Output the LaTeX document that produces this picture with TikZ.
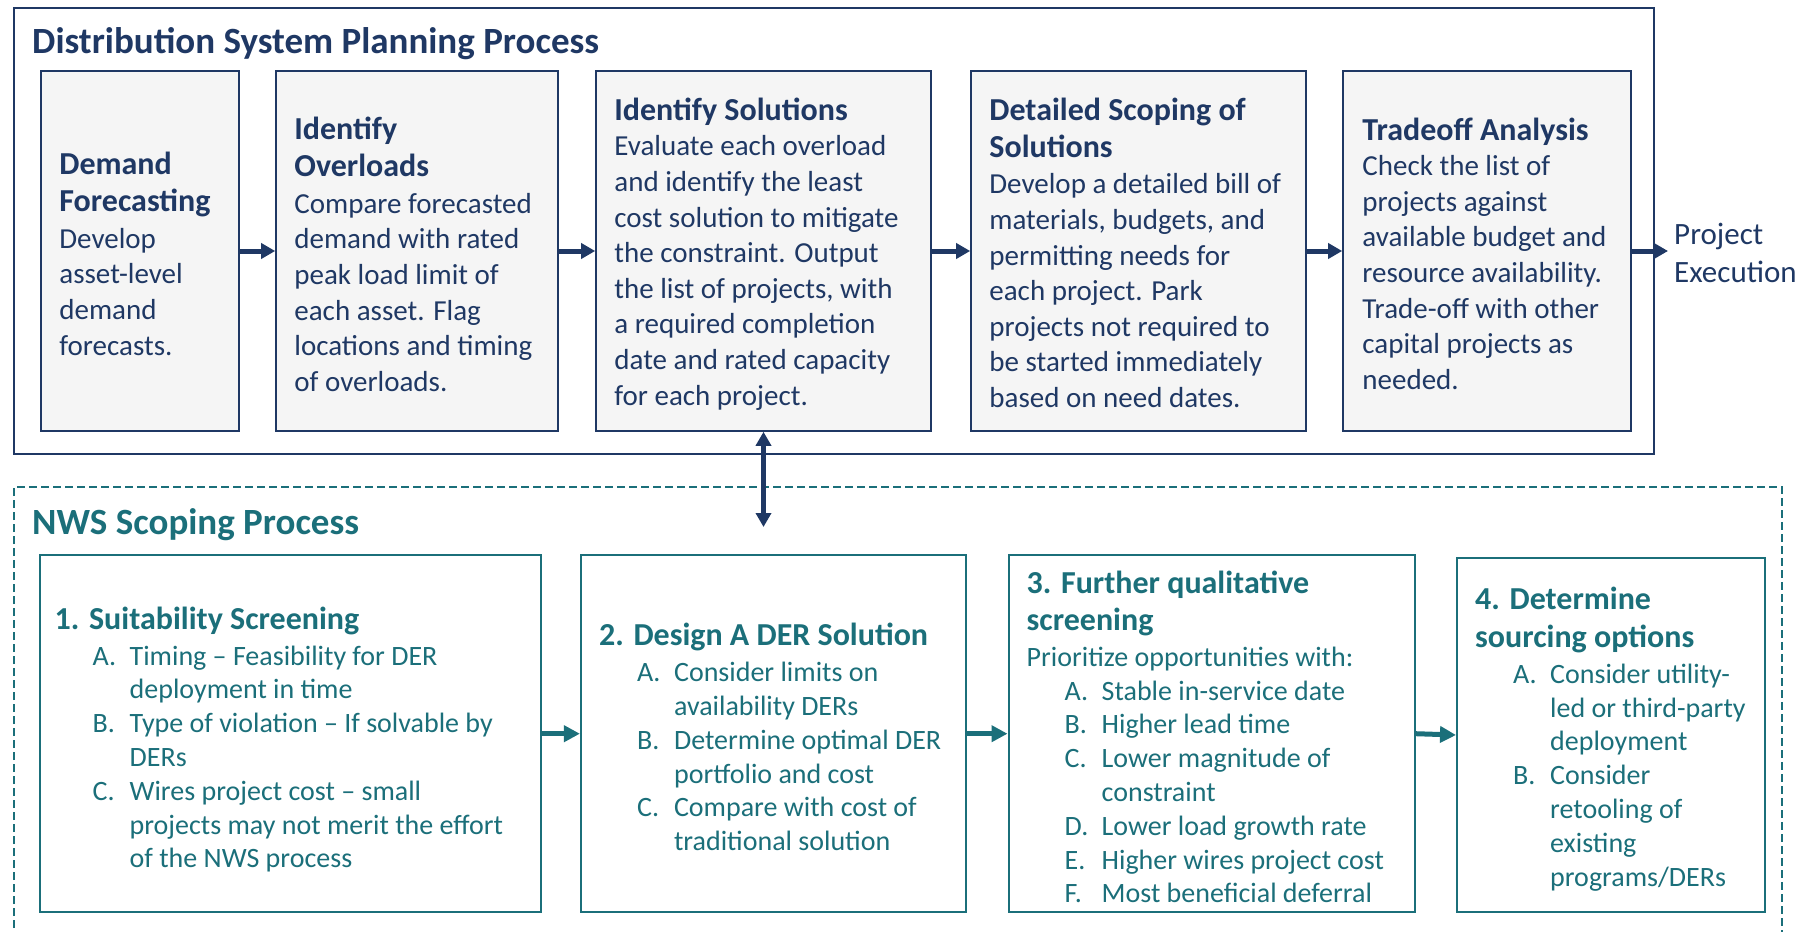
\documentclass[tikz,border=0pt]{standalone}
\usepackage{fontspec}
\setmainfont{Carlito}
\usetikzlibrary{arrows.meta}

\definecolor{dspnavy}{HTML}{1F3864}
\definecolor{nwsteal}{HTML}{1B6F7A}
\definecolor{panelgray}{HTML}{F5F5F5}

% headings inside the boxes
\newcommand{\tophead}[1]{{\fontsize{32}{37}\selectfont\bfseries #1}}
\newcommand{\nwshead}[1]{{\fontsize{32}{37}\selectfont\bfseries #1}}
% lettered list lines with a hanging indent
\newcommand{\lstitem}[2]{\hspace*{38pt}\makebox[37pt][l]{#1}#2}
\newcommand{\lstcont}[1]{\hspace*{75pt}#1}

\tikzset{
  dspframe/.style={draw=dspnavy, line width=1.6pt},
  nwsframe/.style={draw=nwsteal, line width=1.6pt, dash pattern=on 8pt off 4pt},
  dspbox/.style={draw=dspnavy, line width=1.6pt, fill=panelgray, inner sep=0pt, minimum height=360pt},
  nwsbox/.style={draw=nwsteal, line width=2pt, fill=white, inner sep=0pt},
  dsptext/.style={anchor=west, inner sep=0pt, align=left, text=dspnavy, font=\fontsize{29}{35.6}\selectfont},
  nwstext/.style={anchor=west, inner sep=0pt, align=left, text=nwsteal, font=\fontsize{28}{33.8}\selectfont},
  headline/.style={anchor=west, inner sep=0pt, font=\fontsize{37}{44}\selectfont\bfseries},
  dspflow/.style={draw=dspnavy, line width=5pt, -{Triangle[length=14pt,width=15pt]}},
  nwsflow/.style={draw=nwsteal, line width=5pt, -{Triangle[length=16pt,width=16pt]}},
  twoway/.style={draw=dspnavy, line width=5pt, {Triangle[length=14pt,width=15pt]}-{Triangle[length=14pt,width=15pt]}},
}

\begin{document}
\begin{tikzpicture}[x=1pt,y=-1pt]
\useasboundingbox (0,0) rectangle (1803,931);

% frames of the two processes
\draw[dspframe] (14,8) rectangle (1654,454);
\draw[nwsframe] (14,940) -- (14,487) -- (1782,487) -- (1782,940);

\node[headline, text=dspnavy] (dsptitle) at (32,43.5) {Distribution System Planning Process};
\node[headline, text=nwsteal] (nwstitle) at (32,524.5) {NWS Scoping Process};

% planning steps
\node[dspbox, minimum width=198pt] (f1) at (140,251) {};
\node[dspbox, minimum width=282pt] (f2) at (417,251) {};
\node[dspbox, minimum width=335pt] (f3) at (763.5,251) {};
\node[dspbox, minimum width=335pt] (f4) at (1138.5,251) {};
\node[dspbox, minimum width=288pt] (f5) at (1487,251) {};

\node[dsptext] (t1) at ([xshift=19pt,yshift=-2.5pt]f1.west) {\tophead{Demand}\\[1.5pt]
  \tophead{Forecasting}\\[1.5pt]
  Develop\\
  asset-level\\
  demand\\
  forecasts.};
\node[dsptext] (t2) at ([xshift=19pt,yshift=-3pt]f2.west) {\tophead{Identify}\\[1.5pt]
  \tophead{Overloads}\\[1.5pt]
  Compare forecasted\\
  demand with rated\\
  peak load limit of\\
  each asset. Flag\\
  locations and timing\\
  of overloads.};
\node[dsptext] (t3) at ([xshift=19pt,yshift=-3pt]f3.west) {\tophead{Identify Solutions}\\
  Evaluate each overload\\
  and identify the least\\
  cost solution to mitigate\\
  the constraint. Output\\
  the list of projects, with\\
  a required completion\\
  date and rated capacity\\
  for each project.};
\node[dsptext] (t4) at ([xshift=19pt,yshift=-2pt]f4.west) {\tophead{Detailed Scoping of}\\[1pt]
  \tophead{Solutions}\\[1pt]
  Develop a detailed bill of\\
  materials, budgets, and\\
  permitting needs for\\
  each project. Park\\
  projects not required to\\
  be started immediately\\
  based on need dates.};
\node[dsptext] (t5) at ([xshift=20pt,yshift=-2.5pt]f5.west) {\tophead{Tradeoff Analysis}\\
  Check the list of\\
  projects against\\
  available budget and\\
  resource availability.\\
  Trade-off with other\\
  capital projects as\\
  needed.};

\node[dsptext, font=\fontsize{31}{38}\selectfont] (exec) at (1674,252.5) {Project\\Execution};

\draw[dspflow] (f1.east) -- (f2.west);
\draw[dspflow] (f2.east) -- (f3.west);
\draw[dspflow] (f3.east) -- (f4.west);
\draw[dspflow] (f4.east) -- (f5.west);
\draw[dspflow] (f5.east) -- ([xshift=-6pt]exec.west |- f5.east);

% link between the two processes
\coordinate (nwslink) at (763.5,527);
\draw[twoway] (f3.south) -- (nwslink);

% scoping steps
\node[nwsbox, minimum width=501pt, minimum height=356.5pt] (s1) at (290,733.7) {};
\node[nwsbox, minimum width=385pt, minimum height=356.5pt] (s2) at (773.4,733.7) {};
\node[nwsbox, minimum width=406pt, minimum height=356.5pt] (s3) at (1211.5,733.7) {};
\node[nwsbox, minimum width=308pt, minimum height=354pt] (s4) at (1611,735) {};

\node[nwstext] (u1) at ([xshift=16pt,yshift=-6pt]s1.west) {\nwshead{1. Suitability Screening}\\[2pt]
  \lstitem{A.}{Timing -- Feasibility for DER}\\
  \lstcont{deployment in time}\\
  \lstitem{B.}{Type of violation -- If solvable by}\\
  \lstcont{DERs}\\
  \lstitem{C.}{Wires project cost -- small}\\
  \lstcont{projects may not merit the effort}\\
  \lstcont{of the NWS process}};
\node[nwstext] (u2) at ([xshift=19pt,yshift=-3.5pt]s2.west) {\nwshead{2. Design A DER Solution}\\[2pt]
  \lstitem{A.}{Consider limits on}\\
  \lstcont{availability DERs}\\
  \lstitem{B.}{Determine optimal DER}\\
  \lstcont{portfolio and cost}\\
  \lstitem{C.}{Compare with cost of}\\
  \lstcont{traditional solution}};
\node[nwstext] (u3) at ([xshift=19pt,yshift=-3.5pt]s3.west) {\nwshead{3. Further qualitative}\\[3pt]
  \nwshead{screening}\\[2pt]
  Prioritize opportunities with:\\
  \lstitem{A.}{Stable in-service date}\\
  \lstitem{B.}{Higher lead time}\\
  \lstitem{C.}{Lower magnitude of}\\
  \lstcont{constraint}\\
  \lstitem{D.}{Lower load growth rate}\\
  \lstitem{E.}{Higher wires project cost}\\
  \lstitem{F.}{Most beneficial deferral}};
\node[nwstext] (u4) at ([xshift=19pt,yshift=-4pt]s4.west) {\nwshead{4. Determine}\\[4pt]
  \nwshead{sourcing options}\\[2pt]
  \lstitem{A.}{Consider utility-}\\
  \lstcont{led or third-party}\\
  \lstcont{deployment}\\
  \lstitem{B.}{Consider}\\
  \lstcont{retooling of}\\
  \lstcont{existing}\\
  \lstcont{programs/DERs}};

\draw[nwsflow] (s1.east) -- (s2.west);
\draw[nwsflow] (s2.east) -- (s3.west);
\draw[nwsflow] (s3.east) -- (s4.west);
\end{tikzpicture}
\end{document}
